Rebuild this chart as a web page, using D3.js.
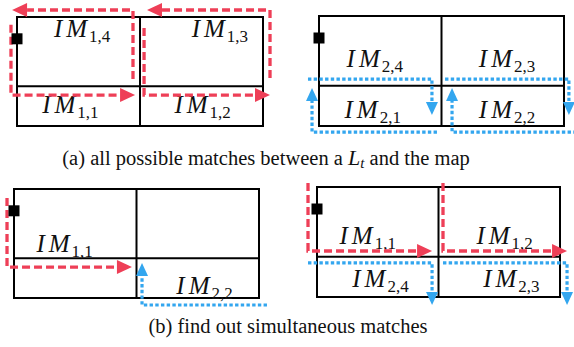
<!DOCTYPE html>
<html>
<head>
<meta charset="utf-8">
<script src="https://cdn.jsdelivr.net/npm/d3@7"></script>
<style>
  html, body { margin: 0; padding: 0; background: #fff; }
  svg { display: block; }
</style>
</head>
<body>
<svg id="fig" width="574" height="347"></svg>
<script>
// Panel frames (pixel box of each 2x2 grid map)
const panels = [
  { id: "a1", left: 17,  right: 263, top: 17,  bottom: 126 },
  { id: "a2", left: 319, right: 564, top: 16,  bottom: 126 },
  { id: "b1", left: 14,  right: 259, top: 189, bottom: 298 },
  { id: "b2", left: 317, right: 560, top: 187, bottom: 297 }
];
// Grid geometry in map units: two columns [0,2], rows split at 0.635 of the height
const columnSplit = 1;
const rowSplit = 0.635;
// Start marker position (map units)
const startMarker = [0, 0.2];

// Cell labels: IM_{i,j}, positioned in map units (x = text start, y = baseline)
const cellLabels = [
  { panel: "a1", sub: "1,4", x: 0.300, y: 0.183 },
  { panel: "a1", sub: "1,3", x: 1.420, y: 0.183 },
  { panel: "a1", sub: "1,1", x: 0.205, y: 0.880 },
  { panel: "a1", sub: "1,2", x: 1.280, y: 0.880 },
  { panel: "a2", sub: "2,4", x: 0.225, y: 0.464 },
  { panel: "a2", sub: "2,3", x: 1.305, y: 0.464 },
  { panel: "a2", sub: "2,1", x: 0.208, y: 0.927 },
  { panel: "a2", sub: "2,2", x: 1.305, y: 0.927 },
  { panel: "b1", sub: "1,1", x: 0.183, y: 0.578 },
  { panel: "b1", sub: "2,2", x: 1.325, y: 0.963 },
  { panel: "b2", sub: "1,1", x: 0.185, y: 0.518 },
  { panel: "b2", sub: "1,2", x: 1.312, y: 0.518 },
  { panel: "b2", sub: "2,4", x: 0.290, y: 0.909 },
  { panel: "b2", sub: "2,3", x: 1.368, y: 0.909 }
];

// Matches of the first L-shaped trajectory (red, dashed); last point is the arrow tip
const redPaths = [
  { panel: "a1", pts: [[0.943, 0.569], [0.943, -0.064], [-0.040, -0.064]] },
  { panel: "a1", pts: [[-0.049, 0.070], [-0.049, 0.716], [0.960, 0.716]] },
  { panel: "a1", pts: [[2.057, 0.560], [2.057, -0.064], [1.057, -0.064]] },
  { panel: "a1", pts: [[1.033, 0.100], [1.033, 0.716], [2.057, 0.716]] },
  { panel: "b1", pts: [[-0.057, 0.083], [-0.057, 0.716], [0.963, 0.716]] },
  { panel: "b2", pts: [[-0.074, -0.036], [-0.074, 0.582], [0.947, 0.582]] },
  { panel: "b2", pts: [[1.037, -0.036], [1.037, 0.582], [2.058, 0.582]] }
];
// Matches of the second trajectory (blue, dotted)
const bluePaths = [
  { panel: "a2", pts: [[-0.090, 0.573], [0.922, 0.573], [0.922, 0.900]] },
  { panel: "a2", pts: [[0.963, 1.055], [-0.057, 1.055], [-0.057, 0.655]] },
  { panel: "a2", pts: [[1.029, 0.573], [2.040, 0.573], [2.040, 0.900]] },
  { panel: "a2", pts: [[2.150, 1.055], [1.086, 1.055], [1.086, 0.655]] },
  { panel: "b1", pts: [[2.065, 1.064], [1.045, 1.064], [1.045, 0.679]] },
  { panel: "b2", pts: [[-0.074, 0.690], [0.947, 0.690], [0.947, 1.073]] },
  { panel: "b2", pts: [[1.037, 0.690], [2.058, 0.690], [2.058, 1.073]] }
];

// Sub-figure captions
const captions = [
  { x: 266, y: 165, parts: [["(a) all possible matches between a ", ""], ["L", "it"], ["t", "sub"], [" and the map", "back"]] },
  { x: 288, y: 333, parts: [["(b) find out simultaneous matches", ""]] }
];

const serifFont = "'Liberation Serif'";

const styles = {
  red:  { color: "#ee3f57", width: 3.3, dash: "8,4",     head: 15, headW: 14 },
  blue: { color: "#33a6ef", width: 3.2, dash: "3.4,2.3", head: 13, headW: 12 }
};

const svg = d3.select("#fig");

const scales = {};
panels.forEach(p => {
  scales[p.id] = {
    x: d3.scaleLinear().domain([0, 2]).range([p.left, p.right]),
    y: d3.scaleLinear().domain([0, 1]).range([p.top, p.bottom])
  };
});

// Grid maps
panels.forEach(p => {
  const s = scales[p.id];
  const g = svg.append("g").attr("class", "map " + p.id);
  g.append("rect")
    .attr("x", s.x(0)).attr("y", s.y(0))
    .attr("width", s.x(2) - s.x(0)).attr("height", s.y(1) - s.y(0))
    .attr("fill", "none").attr("stroke", "#000").attr("stroke-width", 2);
  g.append("line")
    .attr("x1", s.x(columnSplit)).attr("x2", s.x(columnSplit))
    .attr("y1", s.y(0)).attr("y2", s.y(1))
    .attr("stroke", "#000").attr("stroke-width", 2);
  g.append("line")
    .attr("x1", s.x(0)).attr("x2", s.x(2))
    .attr("y1", s.y(rowSplit)).attr("y2", s.y(rowSplit))
    .attr("stroke", "#000").attr("stroke-width", 2);
});

// Cell labels
cellLabels.forEach(d => {
  const s = scales[d.panel];
  const t = svg.append("text")
    .attr("x", s.x(d.x)).attr("y", s.y(d.y))
    .style("font-family", serifFont)
    .style("font-size", "25px")
    .attr("fill", "#111");
  t.append("tspan")
    .style("font-style", "italic")
    .style("letter-spacing", "4px")
    .text("IM");
  t.append("tspan")
    .style("font-size", "17px")
    .attr("dy", 5)
    .attr("dx", -2)
    .text(d.sub);
});

// Trajectory matches with arrowheads
function drawMatch(d, st) {
  const s = scales[d.panel];
  const px = d.pts.map(p => [s.x(p[0]), s.y(p[1])]);
  const tip = px[px.length - 1];
  const prev = px[px.length - 2];
  const dx = tip[0] - prev[0], dy = tip[1] - prev[1];
  const len = Math.hypot(dx, dy);
  const ux = dx / len, uy = dy / len;
  const base = [tip[0] - ux * st.head, tip[1] - uy * st.head];
  const linePts = px.slice(0, -1).concat([base]);
  svg.append("path")
    .attr("d", d3.line()(linePts))
    .attr("fill", "none")
    .attr("stroke", st.color)
    .attr("stroke-width", st.width)
    .attr("stroke-dasharray", st.dash);
  const hw = st.headW / 2;
  const tri = [
    tip,
    [base[0] - uy * hw, base[1] + ux * hw],
    [base[0] + uy * hw, base[1] - ux * hw]
  ];
  svg.append("path")
    .attr("d", d3.line()(tri) + "Z")
    .attr("fill", st.color);
}
redPaths.forEach(d => drawMatch(d, styles.red));
bluePaths.forEach(d => drawMatch(d, styles.blue));

// Start markers
panels.forEach(p => {
  const s = scales[p.id];
  svg.append("rect")
    .attr("x", s.x(startMarker[0]) - 5.5).attr("y", s.y(startMarker[1]) - 5.5)
    .attr("width", 11).attr("height", 11)
    .attr("fill", "#000");
});

// Captions
captions.forEach(c => {
  const t = svg.append("text")
    .attr("x", c.x).attr("y", c.y)
    .attr("text-anchor", "middle")
    .style("font-family", serifFont)
    .style("font-size", "20.5px")
    .attr("fill", "#111");
  c.parts.forEach(([txt, kind]) => {
    const sp = t.append("tspan").text(txt);
    if (kind === "it") sp.style("font-style", "italic").style("font-size", "22px");
    if (kind === "sub") sp.style("font-style", "italic").style("font-size", "15px").attr("dy", 3);
    if (kind === "back") sp.attr("dy", -3);
  });
});
</script>
</body>
</html>
